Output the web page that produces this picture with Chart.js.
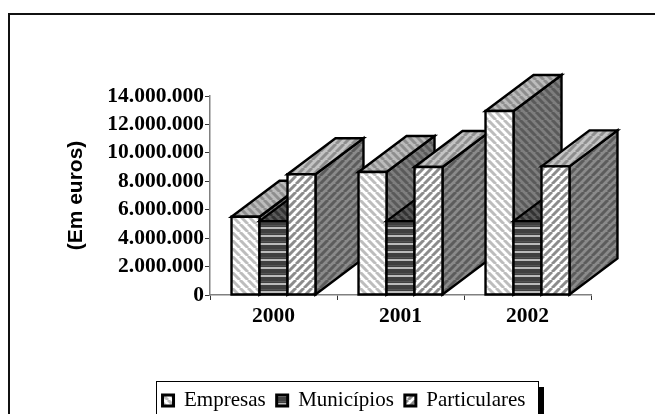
<!DOCTYPE html>
<html><head><meta charset="utf-8">
<style>html,body{margin:0;padding:0;background:#fff;overflow:hidden}#w{position:relative;width:655px;height:414px}</style>
<script src="https://cdn.jsdelivr.net/npm/chart.js@4"></script></head>
<body><div id="w"><canvas id="c" width="655" height="414"></canvas></div>
<script>
const categories = ['2000','2001','2002'];
const empresas = [5500000, 8650000, 12950000];
const municipios = [5200000, 5200000, 5200000];
const particulares = [8500000, 9000000, 9050000];
const yTicks = [0,2000000,4000000,6000000,8000000,10000000,12000000,14000000];
const seriesNames = ['Empresas','Municípios','Particulares'];

function stripes(bg, fg, dir){
  const n=8, t=document.createElement('canvas'); t.width=t.height=n;
  const g=t.getContext('2d'); g.fillStyle=bg; g.fillRect(0,0,n,n);
  g.strokeStyle=fg; g.lineWidth=3;
  for(let i=-n;i<=2*n;i+=n){ g.beginPath();
    if(dir>0){g.moveTo(i,0);g.lineTo(i+n,n);} else {g.moveTo(i+n,0);g.lineTo(i,n);}
    g.stroke(); }
  return document.createElement('canvas').getContext('2d').createPattern(t,'repeat');
}
function bands(bg, fg){
  const t=document.createElement('canvas'); t.width=4; t.height=8;
  const g=t.getContext('2d'); g.fillStyle=bg; g.fillRect(0,0,4,8);
  g.fillStyle='#555'; g.fillRect(0,1,4,1); g.fillStyle=fg; g.fillRect(0,3,4,2);
  return document.createElement('canvas').getContext('2d').createPattern(t,'repeat');
}
const faces = [
 {front:stripes('#ffffff','#bdbdbd',1), top:stripes('#bcbcbc','#8e8e8e',1), side:stripes('#7e7e7e','#5a5a5a',1)},
 {front:bands('#404040','#bbbbbb'), top:stripes('#5a5a5a','#333333',1), side:stripes('#444','#333',1)},
 {front:stripes('#ffffff','#8c8c8c',-1), top:stripes('#c4c4c4','#8e8e8e',-1), side:stripes('#8a8a8a','#5c5c5c',-1)}
];
const DX=48, DY=36;
function poly(ctx,pts,fill){
  ctx.beginPath(); pts.forEach((p,i)=>i?ctx.lineTo(p[0],p[1]):ctx.moveTo(p[0],p[1])); ctx.closePath();
  ctx.fillStyle=fill; ctx.fill(); ctx.stroke();
}
const bars3d = { id:'bars3d',
  beforeDraw(chart){
    chart.legend.left=97; chart.legend.top=chart.legend.bottom-chart.legend.height+1;
    const c=chart.ctx; c.save(); c.strokeStyle='#111'; c.lineWidth=2;
    c.beginPath(); c.moveTo(655,14); c.lineTo(9,14); c.lineTo(9,414); c.stroke();
    c.fillStyle='#000'; c.fillRect(539,387,5,27);
    c.lineWidth=1; c.strokeStyle='#000'; c.strokeRect(156.5,381.5,382,33);
    c.restore();
  },
  afterDatasetsDraw(chart){
    const c=chart.ctx; c.save(); c.strokeStyle='#000'; c.lineWidth=2.4; c.lineJoin='miter';
    categories.forEach((_,i)=>{
      chart.data.datasets.forEach((d,s)=>{
        const e=chart.getDatasetMeta(s).data[i], w=e.width, L=e.x-w/2, R=e.x+w/2, T=e.y, B=e.base, f=faces[s];
        poly(c,[[R,B],[R+DX,B-DY],[R+DX,T-DY],[R,T]],f.side);
        poly(c,[[L,T],[L+DX,T-DY],[R+DX,T-DY],[R,T]],f.top);
        poly(c,[[L,T],[R,T],[R,B],[L,B]],f.front);
      });
    });
    c.restore();
  }
};
new Chart(document.getElementById('c'),{
  type:'bar',
  data:{labels:categories,datasets:[empresas,municipios,particulares].map((v,i)=>({
    label:seriesNames[i],data:v,backgroundColor:faces[i].front,borderColor:'#000',borderWidth:2,
    categoryPercentage:0.661,barPercentage:1}))},
  options:{responsive:false,animation:false,
    layout:{padding:{left:64,right:64,top:96,bottom:-6}},
    plugins:{tooltip:{enabled:false},
      legend:{position:'bottom',align:'center',
        labels:{font:{family:'Liberation Serif',size:21},color:'#000',boxWidth:11,boxHeight:11,padding:11,
          generateLabels(ch){return ch.data.datasets.map((d,i)=>({text:d.label,fillStyle:faces[i].front,strokeStyle:'#000',lineWidth:3,datasetIndex:i,hidden:false}));}}}},
    scales:{
      x:{afterFit(s){s.height=83;},grid:{drawOnChartArea:false,tickLength:5,tickColor:'#333'},border:{color:'#808080',width:1.5},
        ticks:{color:'#000',font:{family:'Liberation Serif',size:21.5,weight:'bold'},padding:4,maxRotation:0}},
      y:{min:0,max:14000000,afterFit(s){s.width=146;},afterBuildTicks(a){a.ticks=yTicks.map(v=>({value:v}));},
        grid:{drawOnChartArea:false,tickLength:5,tickColor:'#333'},border:{color:'#808080',width:1.5},
        title:{display:true,text:'(Em euros)',color:'#000',font:{family:'Liberation Sans',size:21,weight:'bold'},padding:{top:0,bottom:0}},
        ticks:{autoSkip:false,color:'#000',font:{family:'Liberation Serif',size:21.5,weight:'bold'},padding:1,
          callback:v=>String(v).replace(/\B(?=(\d{3})+$)/g,'.')}}
    }}
  ,plugins:[bars3d]});
</script></body></html>
